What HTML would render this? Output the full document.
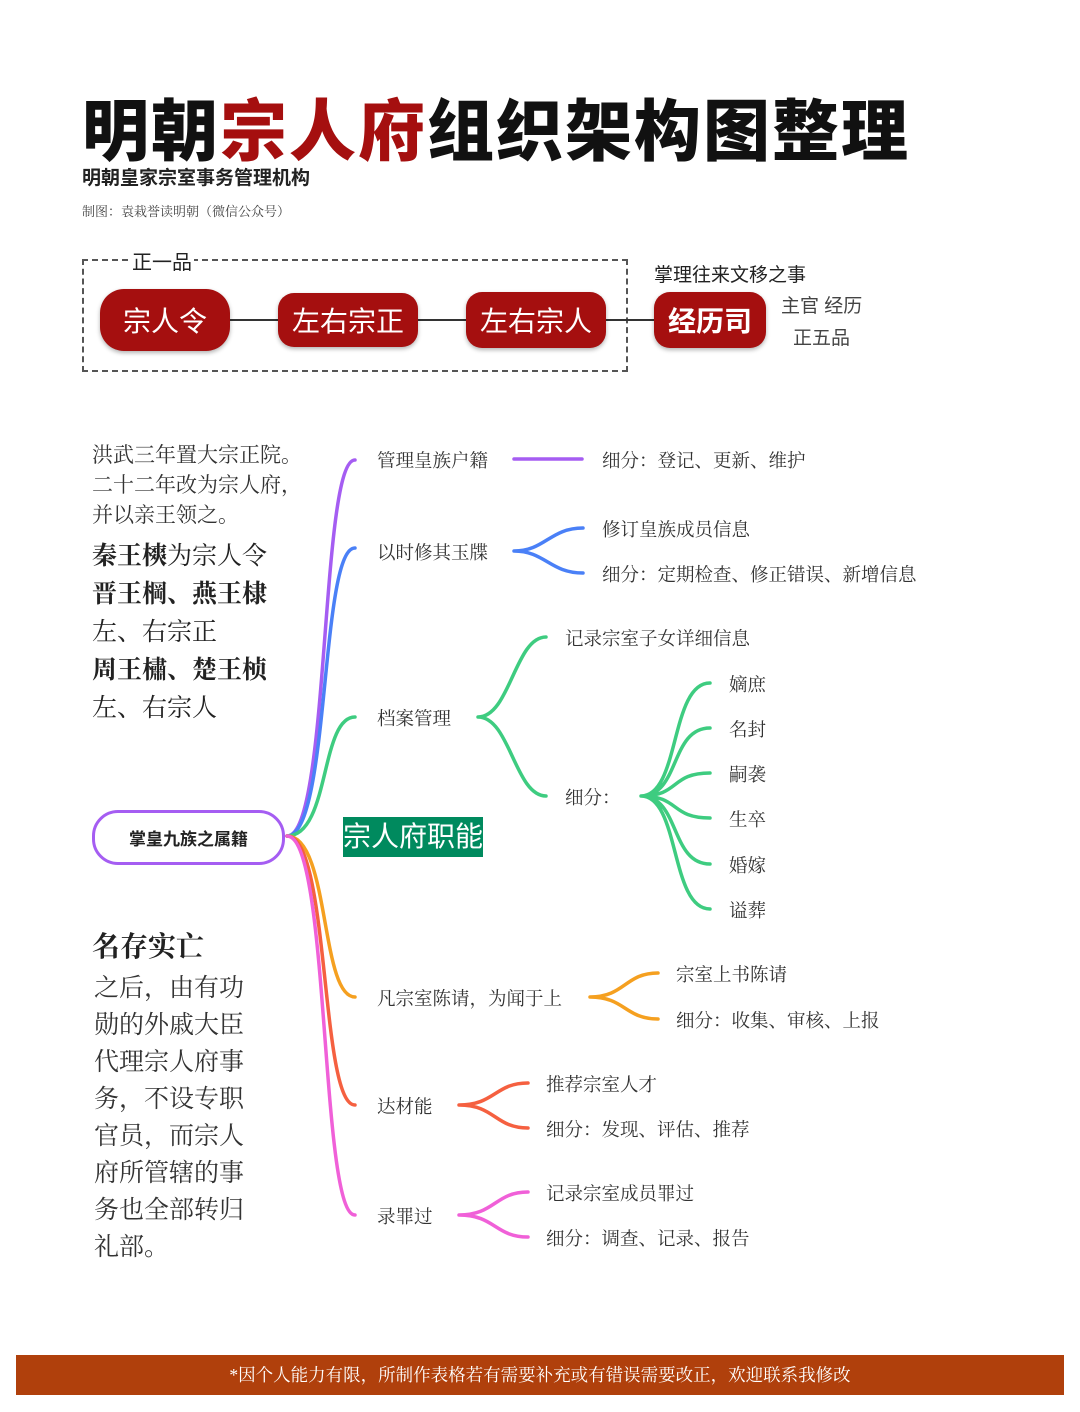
<!DOCTYPE html>
<html><head><meta charset="utf-8"><style>
body{margin:0;width:1080px;height:1412px;background:#fff;position:relative;overflow:hidden;font-family:"Liberation Serif","Noto Serif CJK SC",serif;color:#333}
.a{position:absolute;white-space:nowrap}
.s{font-family:"Liberation Sans","Noto Sans CJK SC",sans-serif}
.box{position:absolute;background:#a50f0f;color:#fff;border-radius:16px;font-family:"Liberation Sans","Noto Sans CJK SC",sans-serif;font-size:28px;display:flex;align-items:center;justify-content:center;box-shadow:0 2px 4px rgba(0,0,0,.3)}
.t{font-size:18.5px;color:#333}
</style></head><body>
<div class="a s" style="left:82px;top:78px;font-size:67px;font-weight:900;color:#111;letter-spacing:2px">明朝<span style="color:#a50f0f">宗人府</span>组织架构图整理</div>
<div class="a s" style="left:82px;top:163px;font-size:19px;font-weight:700;color:#222">明朝皇家宗室事务管理机构</div>
<div class="a" style="left:82px;top:201px;font-size:13px;color:#444">制图：袁栽誉读明朝（微信公众号）</div>
<div class="a" style="left:82px;top:259px;width:542px;height:109px;border:2px dashed #555"></div>
<div class="a s" style="left:130px;top:246px;font-size:20px;background:#fff;padding:0 2px;color:#222">正一品</div>
<div class="a" style="left:225px;top:319px;width:440px;height:2px;background:#333"></div>
<div class="box" style="left:100px;top:289px;width:130px;height:62px;border-radius:24px">宗人令</div>
<div class="box" style="left:278px;top:293px;width:140px;height:54px">左右宗正</div>
<div class="box" style="left:466px;top:292px;width:140px;height:56px">左右宗人</div>
<div class="box" style="left:654px;top:292px;width:112px;height:56px;font-weight:700">经历司</div>
<div class="a s" style="left:654px;top:260px;font-size:19px;color:#222">掌理往来文移之事</div>
<div class="a s" style="left:781px;top:291px;font-size:19px;color:#444">主官 经历</div>
<div class="a s" style="left:793px;top:323px;font-size:19px;color:#444">正五品</div>

<div class="a" style="left:92px;top:440px;font-size:21px;line-height:30px;color:#333">洪武三年置大宗正院。<br>二十二年改为宗人府，<br>并以亲王领之。</div>
<div class="a" style="left:92px;top:538px;font-size:25px;line-height:38px;color:#222"><b>秦王樉</b>为宗人令<br><b>晋王棡、燕王棣</b><br>左、右宗正<br><b>周王橚、楚王桢</b><br>左、右宗人</div>
<div class="a" style="left:92px;top:925px;font-size:28px;font-weight:700;color:#222">名存实亡</div>
<div class="a" style="left:94px;top:970px;font-size:25px;line-height:37px;color:#333;white-space:normal;width:160px">之后，由有功勋的外戚大臣代理宗人府事务，不设专职官员，而宗人府所管辖的事务也全部转归礼部。</div>

<svg class="a" style="left:0;top:0" width="1080" height="1412" fill="none" stroke-width="3.5" stroke-linecap="round">
<path d="M287 836 C330 836 320 460 355 460" stroke="#a55df2"/>
<path d="M287 836 C330 836 320 548 355 548" stroke="#4a80f7"/>
<path d="M287 836 C330 836 320 717 355 717" stroke="#3ecc80"/>
<path d="M287 836 C330 836 320 997 355 997" stroke="#f5a020"/>
<path d="M287 836 C330 836 320 1105 355 1105" stroke="#f56040"/>
<path d="M287 836 C330 836 320 1215 355 1215" stroke="#f060d8"/>
<path d="M514 459 H582" stroke="#a55df2"/>
<path d="M514 551 C545 551 550 528 583 528 M514 551 C545 551 550 573 583 573" stroke="#4a80f7"/>
<path d="M478 717 C510 717 515 637 546 637 M478 717 C510 717 515 796 546 796" stroke="#3ecc80"/>
<path d="M641 796 C680 796 670 683 710 683 M641 796 C680 796 670 728 710 728 M641 796 C680 796 670 773 710 773 M641 796 C680 796 670 818 710 818 M641 796 C680 796 670 864 710 864 M641 796 C680 796 670 909 710 909" stroke="#3ecc80"/>
<path d="M590 997 C625 997 625 973 658 973 M590 997 C625 997 625 1019 658 1019" stroke="#f5a020"/>
<path d="M459 1105 C495 1105 495 1083 528 1083 M459 1105 C495 1105 495 1128 528 1128" stroke="#f56040"/>
<path d="M459 1215 C495 1215 495 1192 528 1192 M459 1215 C495 1215 495 1237 528 1237" stroke="#f060d8"/>
</svg>
<div class="a s" style="left:92px;top:810px;width:187px;height:49px;border:3px solid #a55df2;border-radius:26px;display:flex;align-items:center;justify-content:center;font-size:17px;font-weight:700;color:#222">掌皇九族之属籍</div>
<div class="a s" style="left:343px;top:817px;width:140px;height:40px;background:#008a5e;color:#fff;font-size:28px;line-height:40px;text-align:center">宗人府职能</div>

<div class="a t" style="left:377px;top:447px">管理皇族户籍</div>
<div class="a t" style="left:602px;top:447px">细分：登记、更新、维护</div>
<div class="a t" style="left:377px;top:539px">以时修其玉牒</div>
<div class="a t" style="left:602px;top:516px">修订皇族成员信息</div>
<div class="a t" style="left:602px;top:561px">细分：定期检查、修正错误、新增信息</div>
<div class="a t" style="left:377px;top:705px">档案管理</div>
<div class="a t" style="left:565px;top:625px">记录宗室子女详细信息</div>
<div class="a t" style="left:565px;top:784px">细分：</div>
<div class="a t" style="left:729px;top:671px">嫡庶</div>
<div class="a t" style="left:729px;top:716px">名封</div>
<div class="a t" style="left:729px;top:761px">嗣袭</div>
<div class="a t" style="left:729px;top:806px">生卒</div>
<div class="a t" style="left:729px;top:852px">婚嫁</div>
<div class="a t" style="left:729px;top:897px">谥葬</div>
<div class="a t" style="left:377px;top:985px">凡宗室陈请，为闻于上</div>
<div class="a t" style="left:676px;top:961px">宗室上书陈请</div>
<div class="a t" style="left:676px;top:1007px">细分：收集、审核、上报</div>
<div class="a t" style="left:377px;top:1093px">达材能</div>
<div class="a t" style="left:546px;top:1071px">推荐宗室人才</div>
<div class="a t" style="left:546px;top:1116px">细分：发现、评估、推荐</div>
<div class="a t" style="left:377px;top:1203px">录罪过</div>
<div class="a t" style="left:546px;top:1180px">记录宗室成员罪过</div>
<div class="a t" style="left:546px;top:1225px">细分：调查、记录、报告</div>

<div class="a" style="left:16px;top:1355px;width:1048px;height:40px;background:#b0400c;color:#fff;font-size:17.5px;line-height:40px;text-align:center">*因个人能力有限，所制作表格若有需要补充或有错误需要改正，欢迎联系我修改</div>
</body></html>
